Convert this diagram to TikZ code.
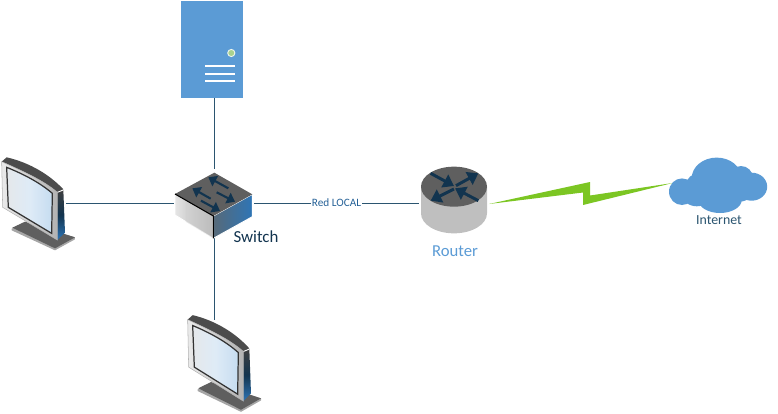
\documentclass[tikz,border=0pt]{standalone}
\usepackage{fontspec}
\setmainfont{Carlito}
\usetikzlibrary{arrows.meta,positioning,calc}
\definecolor{wire}{HTML}{2B5570}
\definecolor{office}{HTML}{5B9BD5}
\definecolor{lamp}{HTML}{A9D18E}
\definecolor{bolt}{HTML}{7CC623}
\definecolor{navy}{HTML}{12344F}
\definecolor{slab}{HTML}{5F5F5F}
\definecolor{drum}{HTML}{BFBFBF}
\definecolor{steel}{HTML}{2E75B6}
\tikzset{
  link/.style={wire,line width=0.5pt},
  anchorbox/.style={inner sep=0pt,outer sep=0pt},
  flow/.style={navy,line width=1.7pt,-{Triangle[length=6pt,width=8pt]}},
  flowsmall/.style={navy,line width=1.2pt,-{Triangle[length=4.5pt,width=6.5pt]}},
  monitor/.pic={
    \begin{scope}[scale=1/3]
    % stand
    \fill[black!35] (35,236) -- (75,216) -- (225,262) -- (225,268) -- (165,301) -- (35,241) -- cycle;
    \fill[slab] (37,233) -- (75,215) -- (225,262) -- (165,295) -- cycle;
    % top band
    \fill[black!70] (5,35) -- (20,22) .. controls (90,38) and (150,75) .. (190,118) -- (172,128)
       .. controls (130,90) and (60,60) .. (5,35) -- cycle;
    % side
    \shade[top color=black!75,bottom color=steel,middle color=navy] (172,127) -- (190,120) -- (195,248) -- (172,270) -- cycle;
    \draw[white,line width=0.5pt] (172,127) -- (190,120);
    % bezel and screen
    \shade[left color=black!8,right color=black!30,draw=black!30,line width=0.3pt]
       (5,35) .. controls (60,60) and (130,90) .. (172,127) -- (172,270) -- (8,172) -- cycle;
    \shade[left color=office!40!black!12,right color=office!35!white,middle color=white!80!office,draw=black!80,line width=0.7pt]
       (20,52) .. controls (70,72) and (120,98) .. (157,130) -- (155,250) -- (25,172) -- cycle;
    \end{scope}
  }
}
\begin{document}
\begin{tikzpicture}[x=0.02cm,y=-0.02cm]
\useasboundingbox (0,0) rectangle (778,413);
% devices as anchors for the links
\node[anchorbox,fill=office,minimum width=1.24cm,minimum height=1.95cm] (server) at (212,49.5) {};
\node[anchorbox,minimum width=1.6cm,minimum height=1.36cm] (switch) at (214,203) {};
\node[anchorbox,minimum width=1.4cm,minimum height=1.2cm] (router) at (454,203) {};
\coordinate (monitorA) at (66,203);
\coordinate (monitorB) at (214,320);
% links
\draw[link] (switch.north |- server.south) -- (switch.north);
\draw[link] (monitorA) -- (switch.west);
\draw[link] (switch.south) -- (monitorB);
\draw[link] (switch.east) -- (router.west)
   node[midway,fill=white,inner sep=0.6pt,font=\fontsize{6.4}{8}\selectfont,text=steel!70!navy] (redlocal) {Red LOCAL};
% server front
\fill[lamp,draw=white!85!lamp,line width=0.5pt] (231.3,53) circle (3.6);
\foreach \y in {66.3,74,81.3}{ \draw[white,line width=1.1pt] (205,\y) -- (235,\y); }
% monitors
\pic at (0,150) {monitor};
\pic[yscale=1.04] at (186,307.5) {monitor};
% switch
\begin{scope}[shift={(165,160)},scale=1/3]
\shade[left color=white!90!black,right color=black!35,draw=white,line width=0.5pt] (30,102) -- (145,168) -- (145,235) -- (30,165) -- cycle;
\fill[black!18,opacity=0.5] (62,121) -- (145,168) -- (145,235) -- (62,185) -- cycle;
\shade[left color=navy!80!black!70,right color=steel,draw=white,line width=0.5pt] (145,168) -- (262,103) -- (262,170) -- (145,235) -- cycle;
\fill[slab] (30,102) -- (148,38) -- (262,103) -- (145,168) -- cycle;
\draw[black,line width=0.6pt] (30,102) -- (145,168) -- (145,235);
\draw[flowsmall] (190,85) -- (130,52);
\draw[flowsmall] (137,116) -- (82,85);
\draw[flowsmall] (155,97) -- (210,125);
\draw[flowsmall] (108,122) -- (165,153);
\end{scope}
% router
\begin{scope}[shift={(300,160)},scale=1/3]
\fill[drum] (363,80) -- (363,160) arc[start angle=180,end angle=360,x radius=99,y radius=-60] -- (561,80) -- cycle;
\fill[slab] (462,80) ellipse (99 and 60);
\draw[flow] (392,40) -- (462,78);
\draw[flow] (468,77) -- (535,40);
\draw[flow] (462,87) -- (392,122);
\draw[flow] (535,122) -- (465,85);
\end{scope}
% wireless bolt
\fill[bolt] (router.east) ++(0,1) -- (590,182) -- (590,195.5) -- (672.7,183) -- (583,205) -- (583,192.5) -- cycle;
% cloud
\foreach \cx/\cy/\rx/\ry in {716.7/178.3/25/20.7,741/178/12/12,751.7/186.7/15.5/14,682/191.7/13/13.3,
   696.7/193.3/15/13,720/200/21.7/13,736.7/190/18/12,700/185/14/12}{
  \fill[office] (\cx,\cy) ellipse [x radius=\rx,y radius=\ry];
}
% labels
\node[anchorbox,font=\fontsize{7.9}{9}\selectfont,text=wire] (internet) at (719,220) {Internet};
\node[anchorbox,font=\fontsize{9.5}{11}\selectfont,text=office] (routerlabel) at (455,251) {Router};
\node[anchorbox,font=\fontsize{9.6}{11}\selectfont,text=navy] (switchlabel) at (256,237) {Switch};
\end{tikzpicture}
\end{document}
